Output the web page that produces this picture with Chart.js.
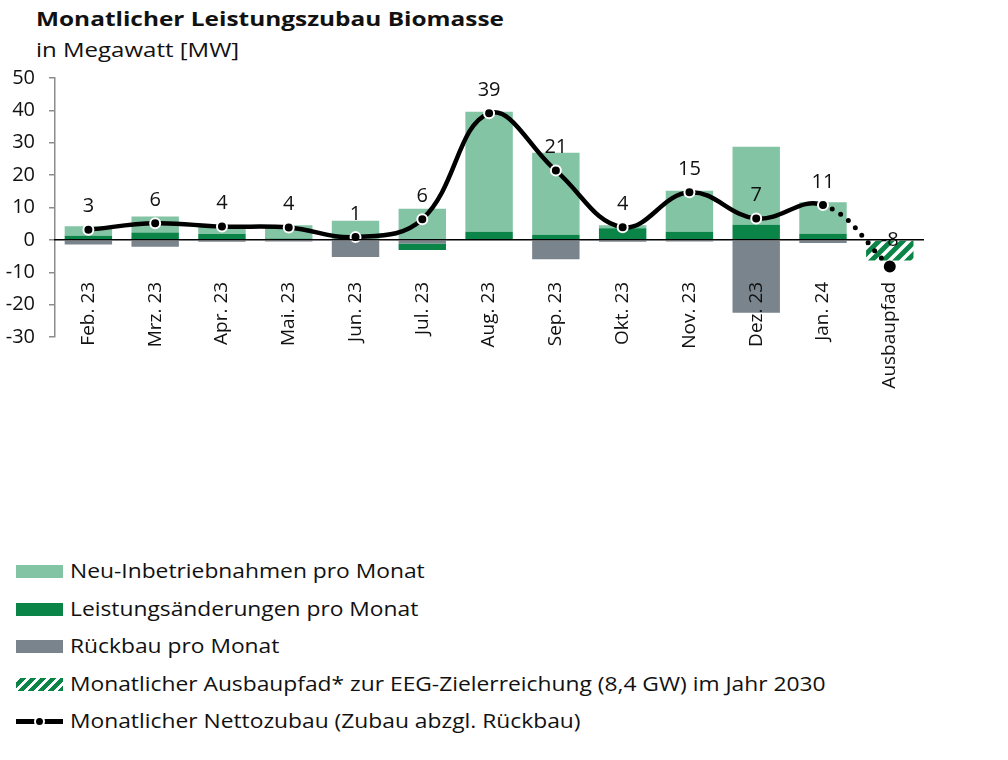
<!DOCTYPE html>
<html>
<head>
<meta charset="utf-8">
<script src="https://cdn.jsdelivr.net/npm/chart.js@4"></script>
<style>
  body { margin: 0; background: #fff; font-family: "Open Sans", sans-serif; color: #111; }
  .stretch { position: absolute; left: 36px; transform-origin: 0 0; white-space: nowrap; }
  #title { top: 5px; font-size: 20px; font-weight: bold; transform: scaleX(1.22); }
  #subtitle { top: 36px; font-size: 20px; transform: scaleX(1.2); }
  #wrap { position: absolute; left: 0; top: 52px; width: 947px; height: 400px; }
  #legend { position: absolute; left: 16px; top: 557px; }
  .row { height: 37.5px; display: flex; align-items: flex-start; font-size: 20px; }
  .row span { display: inline-block; transform: scaleX(1.14); transform-origin: 0 0; white-space: nowrap; }
  .box { width: 47px; height: 13px; margin-top: 8px; margin-right: 7px; }
  .lineicon { position: relative; width: 47px; height: 13px; margin-top: 8px; margin-right: 7px; }
  .lineicon .l { position: absolute; left: 0; top: 4px; width: 47px; height: 5px; background: #000; }
  .lineicon .d { position: absolute; left: 18px; top: 1px; width: 7px; height: 7px; border-radius: 50%; background: #000; border: 2px solid #fff; }
</style>
</head>
<body>
<div id="title" class="stretch">Monatlicher Leistungszubau Biomasse</div>
<div id="subtitle" class="stretch">in Megawatt [MW]</div>
<div id="wrap"><canvas id="chart"></canvas></div>
<div id="legend"></div>
<script>
// DATA
const categories = ["Feb. 23", "Mrz. 23", "Apr. 23", "Mai. 23", "Jun. 23", "Jul. 23", "Aug. 23",
  "Sep. 23", "Okt. 23", "Nov. 23", "Dez. 23", "Jan. 24", "Ausbaupfad"];
const rueckbau = [-1.4, -2.1, -0.6, -0.5, -5.3, -1.1, -0.3, -6.0, -0.6, -0.5, -22.5, -1.0, null];
const leistungsaenderungen = [1.3, 2.3, 1.8, 0.4, 0.3, -2.0, 2.5, 1.6, 3.6, 2.5, 4.7, 1.9, null];
const neuInbetriebnahmen = [2.9, 4.9, 2.4, 4.1, 5.6, 9.6, 37.1, 25.3, 0.9, 12.7, 24.1, 9.7, null];
const ausbaupfad = [null, null, null, null, null, null, null, null, null, null, null, null, -6.4];
const nettozubau = [3.15, 5.1, 4.1, 3.8, 0.85, 6.4, 39.1, 21.4, 3.9, 14.7, 6.6, 10.8, -8.2];
const nettoLabels = ["3", "6", "4", "4", "1", "6", "39", "21", "4", "15", "7", "11", "-8"];
const yTicks = { min: -30, max: 50, step: 10 };

const LIGHT = "#82c4a3";
const DARK = "#0b8447";
const GREY = "#79848d";
const FONT = "'Open Sans', sans-serif";

// hatch pattern for Ausbaupfad
function makeHatch() {
  const c = document.createElement("canvas");
  c.width = 12; c.height = 12;
  const g = c.getContext("2d");
  g.fillStyle = "#fff";
  g.fillRect(0, 0, 12, 12);
  g.strokeStyle = DARK;
  g.lineWidth = 5;
  g.beginPath();
  g.moveTo(-6, 6); g.lineTo(6, -6);
  g.moveTo(0, 12); g.lineTo(12, 0);
  g.moveTo(6, 18); g.lineTo(18, 6);
  g.stroke();
  return g.createPattern(c, "repeat");
}

const ctx = document.getElementById("chart");
const hatch = makeHatch();
const last = categories.length - 1;

// labels above the net line
const labelPlugin = {
  id: "nettoLabels",
  afterDatasetsDraw(chart) {
    const meta = chart.getDatasetMeta(4);
    const c = chart.ctx;
    c.save();
    c.font = "20px " + FONT;
    c.fillStyle = "#111";
    c.textAlign = "center";
    c.textBaseline = "middle";
    meta.data.forEach((pt, i) => {
      const y = i === last ? chart.scales.y.getPixelForValue(0) : pt.y - 23;
      c.fillText(nettoLabels[i], pt.x, y);
    });
    c.restore();
  }
};

new Chart(ctx, {
  type: "bar",
  data: {
    labels: categories,
    datasets: [
      { label: "Rückbau pro Monat", data: rueckbau, backgroundColor: GREY, order: 1 },
      { label: "Leistungsänderungen pro Monat", data: leistungsaenderungen, backgroundColor: DARK, order: 1 },
      { label: "Neu-Inbetriebnahmen pro Monat", data: neuInbetriebnahmen, backgroundColor: LIGHT, order: 1 },
      { label: "Monatlicher Ausbaupfad* zur EEG-Zielerreichung (8,4 GW) im Jahr 2030", data: ausbaupfad, backgroundColor: hatch, order: 1 },
      {
        type: "line",
        label: "Monatlicher Nettozubau (Zubau abzgl. Rückbau)",
        data: nettozubau,
        borderColor: "#000",
        borderWidth: 4.5,
        tension: 0.4,
        pointRadius: 5,
        pointBorderWidth: 2,
        pointBackgroundColor: "#000",
        pointBorderColor: nettozubau.map((v, i) => i === last ? "#000" : "#fff"),
        borderCapStyle: "round",
        segment: {
          borderDash: c => c.p1DataIndex === last ? [0, 10] : undefined,
          borderWidth: c => c.p1DataIndex === last ? 5 : undefined
        },
        order: 0
      }
    ]
  },
  options: {
    responsive: true,
    maintainAspectRatio: false,
    animation: false,
    layout: { autoPadding: false, padding: { top: 11, right: 11, bottom: 115, left: 0 } },
    datasets: { bar: { categoryPercentage: 1, barPercentage: 0.71 } },
    plugins: { legend: { display: false }, tooltip: { enabled: false } },
    scales: {
      x: {
        stacked: true,
        position: { y: 0 },
        grid: { display: false },
        border: { color: "#000", width: 1.5, z: 1 },
        ticks: {
          z: 1,
          color: "#111", font: { family: FONT, size: 19 },
          minRotation: 90, maxRotation: 90, autoSkip: false, padding: 34
        }
      },
      y: {
        stacked: true,
        min: yTicks.min, max: yTicks.max,
        grid: { drawOnChartArea: false, drawTicks: true, tickLength: 6, color: "#8c8c8c", lineWidth: 1.5 },
        border: { color: "#8c8c8c", width: 1.5 },
        ticks: { stepSize: yTicks.step, color: "#111", font: { family: FONT, size: 20 }, padding: 14 },
        afterFit: s => { s.width = 55; }
      }
    }
  },
  plugins: [labelPlugin]
});

// LEGEND
const legendItems = [
  { text: "Neu-Inbetriebnahmen pro Monat", bg: LIGHT },
  { text: "Leistungsänderungen pro Monat", bg: DARK },
  { text: "Rückbau pro Monat", bg: GREY },
  { text: "Monatlicher Ausbaupfad* zur EEG-Zielerreichung (8,4 GW) im Jahr 2030",
    bg: "repeating-linear-gradient(-45deg, " + DARK + " 0 4px, #fff 4px 7px)" },
  { text: "Monatlicher Nettozubau (Zubau abzgl. Rückbau)", line: true }
];
const legend = document.getElementById("legend");
legendItems.forEach(item => {
  const icon = item.line
    ? '<div class="lineicon"><div class="l"></div><div class="d"></div></div>'
    : `<div class="box" style="background:${item.bg}"></div>`;
  legend.innerHTML += `<div class="row">${icon}<span>${item.text}</span></div>`;
});
</script>
</body>
</html>
